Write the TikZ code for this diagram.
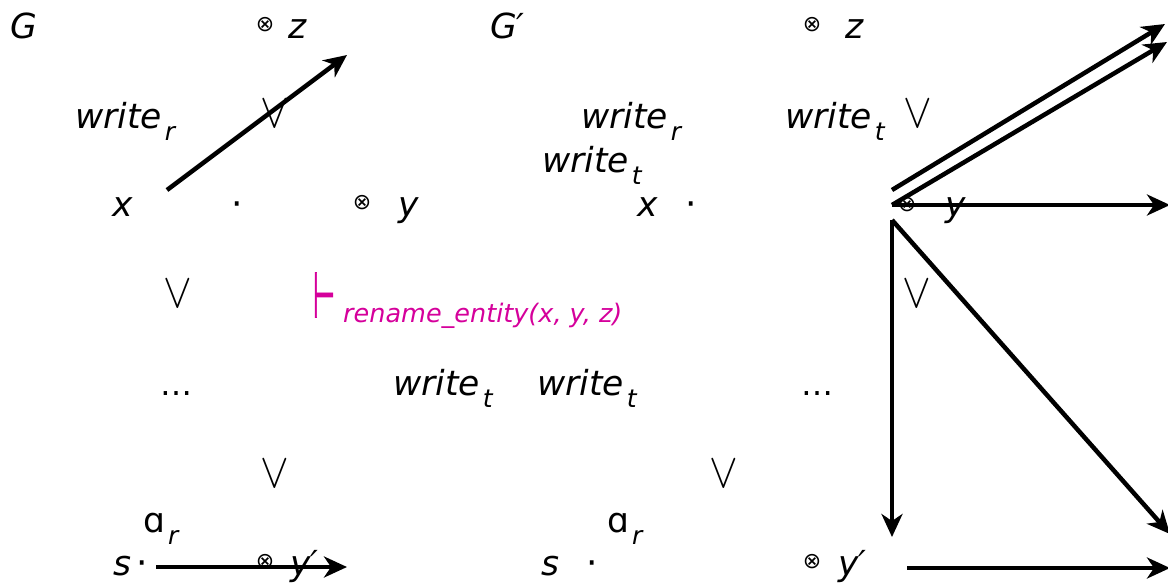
\documentclass[tikz,border=0pt]{standalone}
\usepackage{fontspec}
\usepackage{graphicx}
\setmainfont{DejaVu Sans}
\newfontfamily\tsfont[FakeBold=1.2]{DejaVu Sans}
\usetikzlibrary{arrows.meta}
\definecolor{mag}{RGB}{213,0,155}
\newcommand{\wsub}[2]{#1\hspace{3pt}\raisebox{-12pt}{\fontsize{25}{25}\selectfont\itshape #2}}
\newcommand{\myvee}{\scalebox{4.3}[4.9]{$\vee$}}
\begin{document}
\begin{tikzpicture}[x=1pt,y=-1pt,
  lbl/.style={anchor=base west, inner sep=0pt, font=\fontsize{34.5}{34.5}\selectfont\itshape},
  sym/.style={inner sep=0pt},
  dotc/.style={inner sep=0pt, anchor=base, font=\fontsize{36}{36}\selectfont},
  otm/.style={inner sep=0pt, font=\fontsize{22}{22}\selectfont},
  arr/.style={line width=4.5pt, -{Stealth[length=23pt,width=21pt,inset=7pt]}}]
\useasboundingbox (0,0) rectangle (1168,582);
% ---------- G ----------
\node[lbl] (G) at (10,38) {G};
\node[otm] (oz1) at (265,25) {⊗};
\node[lbl] (z1) at (288,38) {z};
\node[lbl] (wr1) at (75,128) {\wsub{write}{r}};
\node[sym] (or1) at (275,114) {\myvee};
\node[lbl] (x1) at (112,216) {x};
\node[dotc] (d1) at (237,216) {·};
\node[otm] (oy1) at (362,203) {⊗};
\node[lbl] (y1) at (398,216) {y};
\node[sym] (or2) at (178,294) {\myvee};
\node[inner sep=0pt, text=mag, anchor=center] (ts) at (324,295) {\tsfont\fontsize{64}{64}\selectfont\scalebox{0.4}[1]{⊢}};
\node[lbl, text=mag, font=\fontsize{25.5}{25.5}\selectfont\itshape] (ren) at (343,322) {rename\_entity(x, y, z)};
\node[anchor=base, inner sep=0pt, font=\fontsize{32}{32}\selectfont] (dots1) at (176,395) {…};
\node[lbl] (wt1) at (393,395) {\wsub{write}{t}};
\node[lbl] (wt2) at (537,395) {\wsub{write}{t}};
\node[anchor=base, inner sep=0pt, font=\fontsize{32}{32}\selectfont] (dots2) at (817,395) {…};
\node[sym] (or3) at (275,474) {\myvee};
\node[lbl, font=\fontsize{34.5}{34.5}\selectfont] (ar1) at (143,532) {\wsub{ɑ}{r}};
\node[lbl] (s1) at (113,575) {s};
\node[dotc] (d2) at (142,575) {·};
\node[otm] (oyp1) at (265,562) {⊗};
\node[lbl] (yp1) at (290,575) {y′};
% ---------- G' ----------
\node[lbl] (G2) at (490,38) {G′};
\node[otm] (oz2) at (812,25) {⊗};
\node[lbl] (z2) at (845,38) {z};
\node[lbl] (wr2) at (581,128) {\wsub{write}{r}};
\node[lbl] (wt3) at (785,128) {\wsub{write}{t}};
\node[sym] (or4) at (918,114) {\myvee};
\node[lbl] (wt4) at (542,172) {\wsub{write}{t}};
\node[lbl] (x2) at (637,216) {x};
\node[dotc] (d3) at (691,216) {·};
\node[otm] (oy2) at (907,205) {⊗};
\node[lbl] (y2) at (945,216) {y};
\node[sym] (or5) at (917,294) {\myvee};
\node[sym] (or6) at (724,474) {\myvee};
\node[lbl, font=\fontsize{34.5}{34.5}\selectfont] (ar2) at (607,532) {\wsub{ɑ}{r}};
\node[lbl] (s2) at (541,575) {s};
\node[dotc] (d4) at (592,575) {·};
\node[otm] (oyp2) at (812,562) {⊗};
\node[lbl] (yp2) at (838,575) {y′};
% ---------- arrow end points ----------
\coordinate (a1s) at (167,190);
\coordinate (a1e) at (347,55);
\coordinate (a2s) at (156,567);
\coordinate (a2e) at (347,567);
\coordinate (b1s) at (892,190);
\coordinate (b1e) at (1165,24);
\coordinate (b2s) at (892,205);
\coordinate (b2e) at (1167,42);
\coordinate (b3e) at (1170,205);
\coordinate (b4s) at (892,220);
\coordinate (b4e) at (892,537);
\coordinate (b5e) at (1170,534);
\coordinate (b6s) at (907,568);
\coordinate (b6e) at (1170,568);
% ---------- arrows ----------
\draw[arr] (a1s) -- (a1e);
\draw[arr] (a2s) -- (a2e);
\draw[arr] (b1s) -- (b1e);
\draw[arr] (b2s) -- (b2e);
\draw[arr] (b2s) -- (b3e);
\draw[arr] (b4s) -- (b4e);
\draw[arr] (b4s) -- (b5e);
\draw[arr] (b6s) -- (b6e);
\end{tikzpicture}
\end{document}
